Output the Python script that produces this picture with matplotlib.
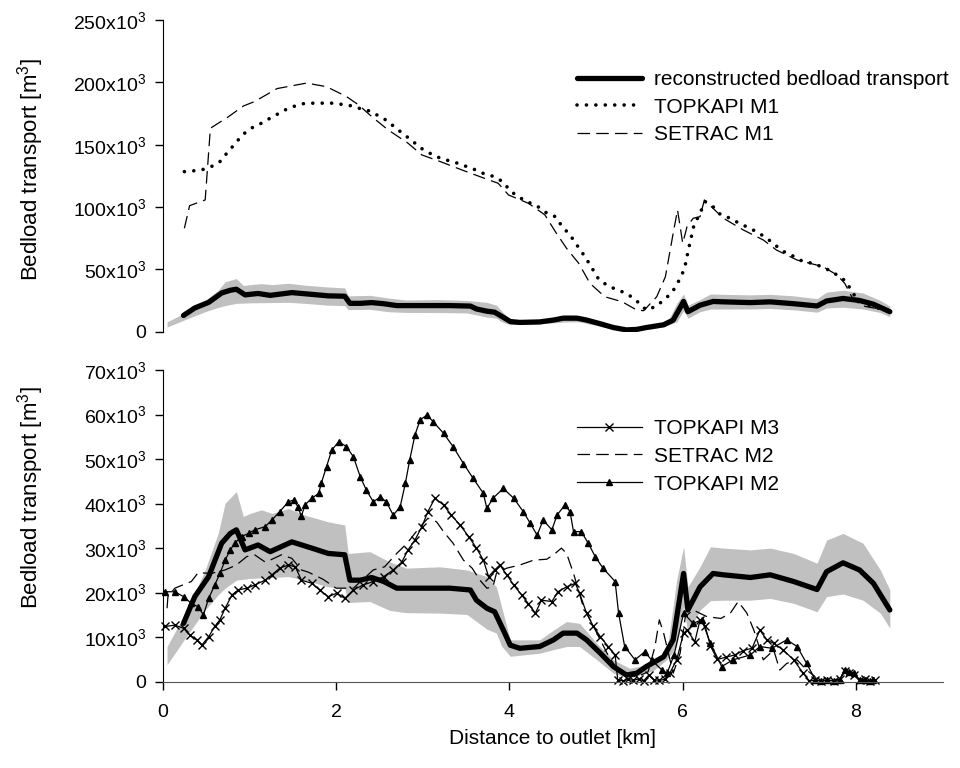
import matplotlib
matplotlib.use('Agg')
import matplotlib.pyplot as plt
import numpy as np

plt.rcParams['font.family'] = ['Liberation Sans', 'DejaVu Sans']
plt.rcParams['font.size'] = 15

# reconstructed bedload transport (10^3 m3) and its uncertainty band
rec_x = [0.24, 0.37, 0.53, 0.68, 0.78, 0.85, 0.95, 1.10, 1.24, 1.49, 1.72, 1.91, 2.10, 2.16, 2.28,
         2.41, 2.55, 2.70, 3.01, 3.31, 3.55, 3.62, 3.74, 3.83, 3.93, 4.01, 4.12, 4.35, 4.51, 4.62,
         4.78, 4.89, 5.05, 5.20, 5.35, 5.47, 5.58, 5.78, 5.89, 6.01, 6.06, 6.20, 6.35, 6.47, 6.78,
         7.01, 7.28, 7.55, 7.66, 7.85, 8.04, 8.20, 8.39]
rec_y = [13.1, 19.1, 23.6, 31.1, 33.3, 34.1, 29.6, 30.7, 29.2, 31.4, 30.0, 28.8, 28.5, 22.8, 22.8,
         23.4, 22.5, 21.0, 21.0, 21.0, 20.6, 18.3, 16.5, 15.7, 11.6, 8.2, 7.5, 7.9, 9.4, 10.9,
         10.9, 9.4, 6.4, 3.4, 1.5, 1.9, 3.4, 5.6, 9.4, 24.3, 16.1, 21.3, 24.3, 24.0, 23.4,
         24.0, 22.5, 20.7, 24.7, 26.7, 25.1, 22.1, 16.1]

band_x = [0.05, 0.30, 0.49, 0.64, 0.72, 0.85, 0.93, 1.01, 1.14, 1.26, 1.45, 1.64, 1.91, 2.10, 2.14,
          2.39, 2.62, 2.81, 3.20, 3.51, 3.74, 3.85, 3.91, 4.01, 4.35, 4.51, 4.66, 4.81, 5.01, 5.20,
          5.39, 5.66, 5.82, 5.93, 6.01, 6.06, 6.20, 6.32, 6.47, 6.78, 7.01, 7.28, 7.55, 7.66, 7.85,
          8.08, 8.28, 8.39]
band_hi = [7.9, 16.8, 25.1, 33.3, 40.1, 42.7, 37.1, 37.8, 38.6, 37.8, 38.9, 37.4, 35.9, 35.2, 28.8,
           29.2, 26.9, 25.5, 25.8, 25.1, 23.6, 21.3, 16.8, 9.4, 9.4, 11.6, 13.5, 13.1, 8.6, 4.9,
           3.0, 4.1, 7.1, 22.8, 30.3, 21.3, 25.8, 30.3, 30.0, 29.6, 30.0, 28.8, 26.6, 31.8, 33.3,
           31.1, 25.1, 20.6]
band_lo = [3.8, 10.9, 16.1, 19.5, 21.0, 22.8, 23.0, 23.2, 23.3, 23.4, 23.6, 22.8, 21.3, 21.0, 17.8,
           18.0, 16.0, 15.5, 15.4, 15.1, 11.8, 10.9, 8.0, 5.7, 6.4, 7.2, 7.9, 7.9, 4.9, 1.9,
           0.8, 2.5, 5.0, 7.9, 16.8, 10.9, 16.1, 18.2, 18.3, 18.3, 18.7, 17.6, 15.7, 19.1, 19.7,
           18.3, 15.4, 12.0]

# model runs, upper panel
m1_x = [0.25, 0.35, 0.45, 0.56, 0.66, 0.74, 0.83, 0.92, 1.02, 1.12, 1.22, 1.33, 1.43, 1.53, 1.63,
        1.74, 1.95, 2.05, 2.16, 2.26, 2.37, 2.47, 2.56, 2.67, 2.78, 2.88, 2.98, 3.08, 3.19, 3.30,
        3.40, 3.51, 3.61, 3.72, 3.83, 3.92, 4.02, 4.12, 4.22, 4.33, 4.41, 4.53, 4.61, 4.70, 4.77,
        4.85, 4.92, 5.03, 5.14, 5.25, 5.35, 5.45, 5.58, 5.70, 5.80, 5.87, 5.94, 6.00, 6.04, 6.06,
        6.10, 6.13, 6.18, 6.26, 6.35, 6.44, 6.55, 6.65, 6.76, 6.87, 6.97, 7.08, 7.18, 7.29, 7.39,
        7.50, 7.60, 7.70, 7.80, 7.89, 7.96, 8.08, 8.20, 8.40]
m1_y = [128.4, 129.0, 129.8, 132.4, 136.4, 143.2, 150.4, 157.9, 163.2, 166.5, 170.5, 174.7, 178.5,
        181.1, 183.0, 183.3, 183.3, 182.5, 181.4, 179.3, 177.4, 173.9, 170.5, 164.5, 158.4, 153.0,
        147.2, 143.2, 139.6, 137.2, 135.2, 132.4, 129.8, 126.3, 124.4, 120.4, 112.4, 107.5, 103.9,
        100.3, 96.0, 92.3, 84.3, 77.6, 70.4, 62.4, 54.9, 42.1, 36.7, 33.5, 30.8, 26.0, 17.4, 20.6,
        26.8, 30.8, 38.8, 47.4, 56.2, 64.2, 76.2, 85.6, 92.3, 104.3, 100.3, 93.7, 91.0, 87.0, 83.5,
        79.5, 75.0, 68.8, 63.7, 60.2, 56.2, 54.9, 52.2, 49.0, 44.7, 40.1, 30.8, 22.8, 20.1, 16.0]

s1_x = [0.25, 0.31, 0.49, 0.55, 0.75, 0.93, 1.06, 1.32, 1.66, 1.89, 2.12, 2.26, 2.41, 2.60, 2.83,
        2.99, 3.22, 3.45, 3.76, 3.87, 3.99, 4.22, 4.41, 4.53, 4.66, 4.80, 4.93, 5.10, 5.30, 5.47,
        5.55, 5.70, 5.80, 5.89, 5.94, 6.00, 6.05, 6.12, 6.20, 6.25, 6.33, 6.47, 6.70, 6.93, 7.08,
        7.32, 7.62, 7.78, 7.87, 7.95, 8.05, 8.12, 8.30]
s1_y = [83.0, 101.1, 105.7, 163.2, 172.0, 181.0, 184.6, 195.0, 199.4, 196.5, 188.6, 181.9, 172.6,
        161.9, 151.2, 141.8, 136.0, 129.8, 121.8, 119.1, 109.7, 103.0, 93.7, 80.3, 66.9, 54.9,
        38.8, 28.1, 24.1, 17.4, 16.9, 28.1, 44.1, 79.0, 97.7, 71.0, 84.3, 91.0, 92.3, 105.7,
        100.3, 91.0, 81.6, 73.6, 65.6, 57.5, 52.2, 45.5, 38.8, 28.1, 21.4, 20.1, 18.0]

# model runs, lower panel
m3_x = [0.03, 0.14, 0.24, 0.31, 0.39, 0.45, 0.53, 0.60, 0.66, 0.72, 0.80, 0.87, 0.97, 1.06, 1.18,
        1.26, 1.35, 1.45, 1.53, 1.60, 1.72, 1.81, 1.91, 2.01, 2.10, 2.20, 2.31, 2.43, 2.55, 2.66,
        2.76, 2.83, 2.91, 2.99, 3.06, 3.14, 3.24, 3.33, 3.43, 3.53, 3.62, 3.70, 3.76, 3.83, 3.89,
        3.97, 4.05, 4.14, 4.22, 4.30, 4.37, 4.49, 4.56, 4.66, 4.76, 4.81, 4.89, 4.97, 5.05, 5.14,
        5.22, 5.25, 5.31, 5.37, 5.43, 5.49, 5.55, 5.61, 5.67, 5.73, 5.79, 5.85, 5.93, 6.01, 6.05,
        6.14, 6.20, 6.26, 6.32, 6.40, 6.50, 6.60, 6.70, 6.80, 6.89, 6.97, 7.05, 7.16, 7.28, 7.39,
        7.46, 7.53, 7.60, 7.67, 7.74, 7.81, 7.87, 7.92, 7.98, 8.04, 8.10, 8.16, 8.22]
m3_y = [12.4, 12.7, 12.0, 10.5, 9.4, 8.2, 10.1, 12.4, 13.9, 16.5, 19.5, 20.6, 21.0, 21.7, 22.8,
        24.0, 25.5, 26.2, 25.8, 22.8, 22.1, 20.6, 19.1, 19.9, 18.7, 20.6, 21.7, 22.5, 23.6, 25.1,
        26.9, 29.6, 31.8, 34.8, 38.2, 41.2, 39.7, 37.4, 35.2, 32.6, 30.0, 27.3, 23.6, 25.1, 26.2,
        24.0, 21.7, 19.5, 17.5, 15.4, 18.3, 18.0, 20.2, 21.3, 22.1, 19.9, 15.4, 12.4, 10.1, 7.9,
        6.0, 0.4, 0.2, 0.5, 0.3, 0.6, 0.2, 1.5, 0.4, 0.3, 0.5, 1.9, 4.9, 10.9, 11.6,
        9.0, 13.9, 12.4, 8.0, 5.0, 5.5, 6.0, 7.0, 7.5, 11.6, 9.4, 8.6, 7.1, 4.9, 1.9,
        0.2, 0.3, 0.2, 0.4, 0.2, 0.5, 2.5, 2.0, 1.5, 0.3, 0.5, 0.2, 0.3]

s2_x = [0.05, 0.06, 0.14, 0.33, 0.41, 0.56, 0.72, 0.85, 0.97, 1.06, 1.18, 1.24, 1.37, 1.49, 1.60,
        1.68, 1.85, 2.00, 2.20, 2.43, 2.56, 2.70, 2.82, 2.97, 3.06, 3.16, 3.24, 3.35, 3.47, 3.57,
        3.66, 3.74, 3.81, 3.85, 3.97, 4.12, 4.28, 4.43, 4.51, 4.60, 4.66, 4.74, 4.85, 5.01, 5.15,
        5.28, 5.47, 5.60, 5.68, 5.73, 5.78, 5.89, 5.97, 6.03, 6.12, 6.28, 6.44, 6.55, 6.64, 6.74,
        6.82, 6.93, 7.05, 7.12, 7.20, 7.32, 7.43, 7.53]
s2_y = [16.5, 19.1, 21.0, 22.5, 24.5, 24.3, 25.1, 26.2, 28.1, 28.5, 26.9, 27.3, 28.5, 27.7, 25.1,
        24.6, 23.0, 21.0, 21.0, 25.1, 25.8, 28.8, 31.1, 34.8, 36.7, 35.9, 33.7, 31.1, 27.3, 25.5,
        22.8, 21.0, 21.3, 24.3, 25.5, 26.2, 27.3, 27.5, 28.5, 30.0, 28.8, 24.3, 17.0, 10.9, 5.5,
        1.9, 1.1, 2.2, 7.9, 13.9, 10.9, 1.9, 6.4, 14.6, 16.1, 14.6, 14.2, 15.4, 18.0, 15.4,
        11.6, 4.9, 7.1, 2.6, 4.1, 4.9, 2.6, 1.1]

m2_x = [0.03, 0.14, 0.24, 0.33, 0.41, 0.47, 0.53, 0.60, 0.66, 0.72, 0.78, 0.83, 0.91, 0.99, 1.06,
        1.18, 1.26, 1.35, 1.45, 1.51, 1.56, 1.60, 1.64, 1.72, 1.80, 1.83, 1.89, 1.95, 2.03, 2.12,
        2.20, 2.28, 2.35, 2.43, 2.51, 2.58, 2.66, 2.74, 2.80, 2.85, 2.91, 2.97, 3.05, 3.12, 3.24,
        3.35, 3.47, 3.58, 3.70, 3.74, 3.81, 3.93, 4.05, 4.16, 4.24, 4.32, 4.39, 4.49, 4.55, 4.64,
        4.70, 4.74, 4.83, 4.91, 4.99, 5.08, 5.22, 5.26, 5.33, 5.45, 5.56, 5.64, 5.76, 5.82, 5.90,
        6.01, 6.12, 6.22, 6.32, 6.45, 6.58, 6.78, 6.89, 7.03, 7.20, 7.32, 7.43, 7.53, 7.60, 7.67,
        7.74, 7.81, 7.87, 7.92, 7.98, 8.04, 8.10, 8.16, 8.20]
m2_y = [20.2, 20.2, 19.1, 17.6, 16.8, 15.0, 18.7, 21.7, 24.3, 27.3, 29.6, 31.1, 32.6, 33.3, 34.1,
        34.8, 36.3, 38.2, 40.4, 40.8, 39.3, 37.1, 39.7, 41.2, 42.3, 44.6, 48.3, 52.0, 53.9, 52.8,
        50.5, 46.0, 43.0, 40.4, 41.5, 40.4, 37.4, 39.3, 44.6, 49.8, 55.4, 58.8, 59.9, 58.4, 55.8,
        52.8, 49.0, 45.7, 42.3, 38.9, 41.2, 43.4, 41.2, 38.2, 35.6, 32.9, 36.3, 34.1, 37.4, 39.7,
        38.2, 33.7, 33.7, 31.1, 28.1, 25.5, 22.5, 15.4, 7.9, 4.9, 6.7, 4.9, 2.6, 1.9, 6.0,
        15.4, 13.1, 13.9, 8.6, 3.4, 4.9, 6.0, 7.9, 7.5, 9.4, 7.9, 4.1, 0.4, 0.2, 0.3,
        0.2, 0.4, 2.6, 2.2, 1.9, 0.3, 0.4, 0.2, 0.3]

top_ticks = [0, 50, 100, 150, 200, 250]
bot_ticks = [0, 10, 20, 30, 40, 50, 60, 70]
x_ticks = [0, 2, 4, 6, 8]


def tick_text(v):
    return '0' if v == 0 else r'$\mathregular{%dx10^3}$' % v


def style_axis(ax, ticks):
    ax.spines['top'].set_visible(False)
    ax.spines['right'].set_visible(False)
    ax.set_xlim(0, 9)
    ax.set_ylim(ticks[0], ticks[-1])
    ax.set_yticks(ticks)
    ax.set_yticklabels([tick_text(v) for v in ticks])
    ax.tick_params(direction='out', length=6, width=1, labelsize=14)
    ax.tick_params(axis='y', pad=6)


fig = plt.figure(figsize=(9.6, 7.68), dpi=100)
ax1 = fig.add_axes([0.1695, 0.568, 0.8125, 0.406])
ax2 = fig.add_axes([0.1695, 0.1124, 0.8125, 0.4058])

band_col = '#c0c0c0'
leg_kw = dict(bbox_transform=fig.transFigure, frameon=False, borderpad=0, borderaxespad=0,
              handlelength=3.1, handletextpad=0.6, labelspacing=0.42, fontsize=15)
ylab = r'Bedload transport [m$\mathregular{^3}$]'

# upper panel
ax1.fill_between(band_x, band_lo, band_hi, color=band_col, lw=0)
ax1.plot(rec_x, rec_y, color='black', lw=3.8, solid_capstyle='round',
         label='reconstructed bedload transport')
ax1.plot(m1_x, m1_y, color='black', lw=2.6, linestyle=(0, (0.01, 2.6)),
         dash_capstyle='round', label='TOPKAPI M1')
ax1.plot(s1_x, s1_y, color='black', lw=0.9, linestyle=(0, (10, 5)), label='SETRAC M1')
style_axis(ax1, top_ticks)
ax1.spines['bottom'].set_visible(False)
ax1.tick_params(axis='x', bottom=False, labelbottom=False)
ax1.set_ylabel(ylab, fontsize=16)
ax1.yaxis.set_label_coords(-0.15, 0.52)
ax1.legend(loc='upper left', bbox_to_anchor=(577 / 960, 1 - 70 / 768), **leg_kw)

# lower panel
ax2.fill_between(band_x, band_lo, band_hi, color=band_col, lw=0)
ax2.plot(m3_x, m3_y, color='black', lw=0.9, marker='x', ms=6, mew=1,
         clip_on=False, label='TOPKAPI M3')
ax2.plot(s2_x, s2_y, color='black', lw=0.9, linestyle=(0, (10, 5)), label='SETRAC M2')
ax2.plot(m2_x, m2_y, color='black', lw=0.9, marker='^', ms=5,
         clip_on=False, label='TOPKAPI M2')
ax2.plot(rec_x, rec_y, color='black', lw=3.8, solid_capstyle='round')
style_axis(ax2, bot_ticks)
ax2.set_xticks(x_ticks)
ax2.tick_params(axis='x', pad=10)
ax2.spines['bottom'].set_color('#555555')
ax2.set_xlabel('Distance to outlet [km]', labelpad=6)
ax2.set_ylabel(ylab, fontsize=16)
ax2.yaxis.set_label_coords(-0.15, 0.59)
ax2.legend(loc='upper left', bbox_to_anchor=(577 / 960, 1 - 419 / 768), numpoints=1, **leg_kw)

fig.savefig('out.png', dpi=100)
